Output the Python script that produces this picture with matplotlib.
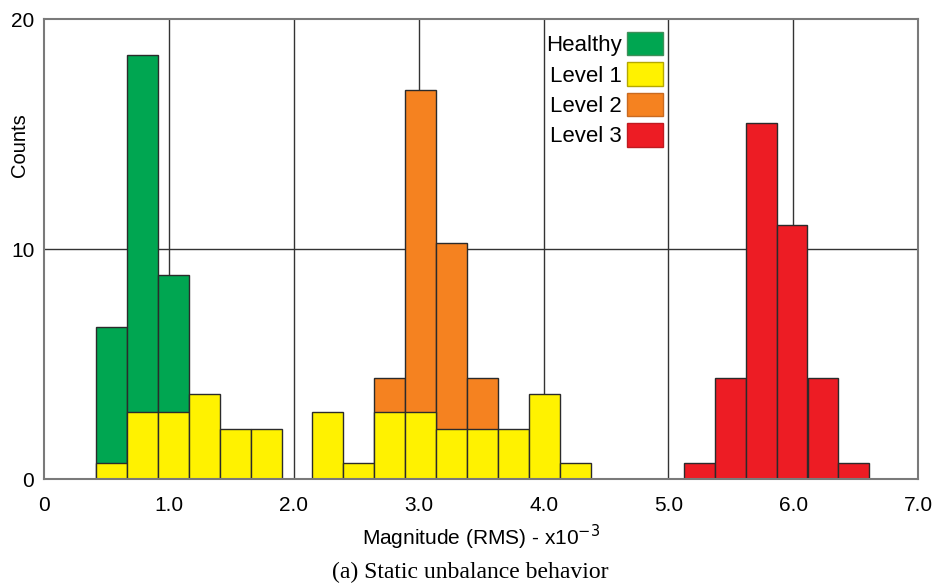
import matplotlib
matplotlib.use("Agg")
import matplotlib.pyplot as plt
from matplotlib.patches import Patch

# bin layout shared by all histograms (x10^-3)
BIN_W = 0.2477

healthy_left = [0.415, 0.663, 0.911]
healthy_counts = [6.61, 18.45, 8.87]

level1_left = [0.415, 0.663, 0.911, 1.158, 1.406, 1.654,
               2.149, 2.397, 2.645, 2.893, 3.140, 3.388, 3.636, 3.884, 4.131]
level1_counts = [0.69, 2.91, 2.91, 3.69, 2.17, 2.17,
                 2.91, 0.69, 2.91, 2.91, 2.17, 2.17, 2.17, 3.69, 0.69]

level2_left = [2.645, 2.893, 3.140, 3.388]
level2_counts = [4.39, 16.9, 10.27, 4.39]

level3_left = [5.122, 5.370, 5.618, 5.865, 6.113, 6.361]
level3_counts = [0.71, 4.39, 15.46, 11.03, 4.39, 0.71]

xticks = [0, 1, 2, 3, 4, 5, 6, 7]
xtick_labels = ["0", "1.0", "2.0", "3.0", "4.0", "5.0", "6.0", "7.0"]
yticks = [0, 10, 20]

GREEN = "#00A651"
YELLOW = "#FFF200"
ORANGE = "#F58220"
RED = "#ED1C24"
EDGE = "#2b2b2b"

SANS = ["Liberation Sans", "DejaVu Sans"]
plt.rcParams["font.family"] = SANS

fig = plt.figure(figsize=(9.38, 5.87), dpi=100)
ax = fig.add_axes([0.0469, 0.1835, 0.9321, 0.7841])

# grid behind bars
for xv in xticks[1:-1]:
    ax.axvline(xv, color="#333333", lw=1.0, zorder=0)
ax.axhline(10, color="#333333", lw=1.0, zorder=0)

bar_kw = dict(width=BIN_W, align="edge", edgecolor=EDGE, linewidth=1.0, zorder=2)
ax.bar(healthy_left, healthy_counts, color=GREEN, **bar_kw)
ax.bar(level2_left, level2_counts, color=ORANGE, **bar_kw)
ax.bar(level3_left, level3_counts, color=RED, **bar_kw)
ax.bar(level1_left, level1_counts, color=YELLOW, **bar_kw)

ax.set_xlim(0, 7)
ax.set_ylim(0, 20)
ax.set_xticks(xticks)
ax.set_xticklabels(xtick_labels)
ax.set_yticks(yticks)
ax.tick_params(length=0, labelsize=15)
ax.tick_params(axis="x", pad=12)
ax.tick_params(axis="y", pad=7)

for s in ax.spines.values():
    s.set_color("#7a7a7a")
    s.set_linewidth(1.5)

ax.set_xlabel("Magnitude (RMS) - x10$^{-3}$", fontsize=15, labelpad=6)
fig.text(0.021, 0.753, "Counts", rotation=90, fontsize=14.5,
         ha="center", va="center")

handles = [
    Patch(facecolor=GREEN, edgecolor="#3f8f5a", label="Healthy"),
    Patch(facecolor=YELLOW, edgecolor="#b5a800", label="Level 1"),
    Patch(facecolor=ORANGE, edgecolor="#c96a20", label="Level 2"),
    Patch(facecolor=RED, edgecolor="#c01a20", label="Level 3"),
]
ax.legend(handles=handles, loc="upper right", bbox_to_anchor=(0.708, 0.972),
          frameon=False, markerfirst=False, handlelength=1.6, handleheight=1.25,
          handletextpad=0.25, labelspacing=0.28, borderpad=0, borderaxespad=0,
          prop={"size": 16})

fig.text(0.501, 0.0256, "(a) Static unbalance behavior", fontsize=17,
         ha="center", va="center", family=["Liberation Serif", "DejaVu Serif"])

fig.savefig("out.png", dpi=100)
